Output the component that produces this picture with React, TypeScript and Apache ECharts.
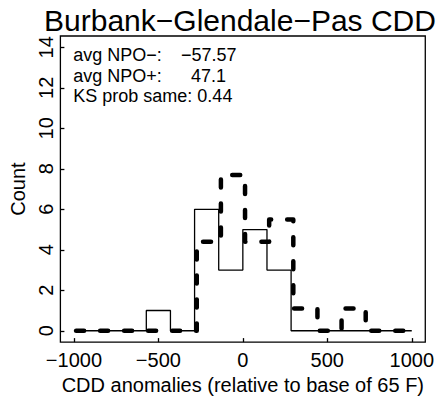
import React, { useEffect, useRef } from 'react';
import * as echarts from 'echarts';

const chartTitle = 'Burbank−Glendale−Pas CDD';
const xAxisTitle = 'CDD anomalies (relative to base of 65 F)';
const yAxisTitle = 'Count';

// histogram bin edges (14 bins of width 1000/7)
const binEdges = [
  -1000, -857.14, -714.29, -571.43, -428.57, -285.71, -142.86, 0,
  142.86, 285.71, 428.57, 571.43, 714.29, 857.14, 1000,
];
// solid histogram (NPO−)
const npoMinusCounts = [0, 0, 0, 1, 0, 6, 3, 5, 3, 0, 0, 0, 0, 0];
// dashed histogram (NPO+, scaled)
const npoPlusCounts = [0, 0, 0, 0, 0, 4.4, 7.7, 4.4, 5.5, 1.1, 0, 1.1, 0, 0];
// small horizontal offset of the dashed histogram in the original
const npoPlusShift = 13;

const xTicks = [-1000, -500, 0, 500, 1000];
const yTicks = [0, 2, 4, 6, 8, 10, 12, 14];
const xRange = [-1080, 1080];
const yRange = [-0.56, 14.56];

const statLabels = ['avg NPO−:', 'avg NPO+:', 'KS prob same: 0.44'];
const statValues = ['−57.57', '47.1', ''];

const FONT = '"Liberation Sans", Arial, Helvetica, sans-serif';

function stepPoints(edges: number[], counts: number[], shift: number) {
  const pts: number[][] = [[edges[0] + shift, 0]];
  for (let i = 0; i < counts.length; i++) {
    pts.push([edges[i] + shift, counts[i]]);
    pts.push([edges[i + 1] + shift, counts[i]]);
  }
  pts.push([edges[edges.length - 1] + shift, 0]);
  return pts;
}

const fmtMinus = (v: number) => String(v).replace('-', '−');

export default function App() {
  const ref = useRef<HTMLDivElement>(null);
  useEffect(() => {
    if (!ref.current) return;
    const chart = echarts.init(ref.current, null, { renderer: 'svg' });
    const statX = [73.3, 73.3, 73.3];
    const valX = [181, 191, 0];
    const statY = [55, 76, 96];
    const graphics: any[] = [
      {
        type: 'text',
        style: {
          text: chartTitle,
          x: 240,
          y: 20.5,
          textAlign: 'center',
          textVerticalAlign: 'middle',
          font: `30px ${FONT}`,
          fill: '#000',
        },
      },
    ];
    statLabels.forEach((s, i) => {
      graphics.push({
        type: 'text',
        style: {
          text: s,
          x: statX[i],
          y: statY[i],
          textAlign: 'left',
          textVerticalAlign: 'middle',
          font: `18px ${FONT}`,
          fill: '#000',
        },
      });
      if (statValues[i]) {
        graphics.push({
          type: 'text',
          style: {
            text: statValues[i],
            x: valX[i],
            y: statY[i],
            textAlign: 'left',
            textVerticalAlign: 'middle',
            font: `18px ${FONT}`,
            fill: '#000',
          },
        });
      }
    });

    chart.setOption({
      animation: false,
      grid: {
        left: 60,
        top: 36,
        width: 366.7,
        height: 309.5,
        show: true,
        borderColor: '#000',
        borderWidth: 1.3,
        backgroundColor: 'transparent',
      },
      xAxis: {
        type: 'value',
        min: xRange[0],
        max: xRange[1],
        name: xAxisTitle,
        nameLocation: 'middle',
        nameGap: 29,
        nameTextStyle: { fontFamily: FONT, fontSize: 20, color: '#000' },
        axisLine: { show: false, onZero: false },
        splitLine: { show: false },
        axisTick: {
          show: true,
          inside: true,
          length: 4,
          customValues: xTicks,
          lineStyle: { color: '#000', width: 1.3 },
        },
        axisLabel: {
          customValues: xTicks,
          margin: 8,
          fontFamily: FONT,
          fontSize: 20,
          color: '#000',
          formatter: (v: number) => fmtMinus(v),
        },
      },
      yAxis: {
        type: 'value',
        min: yRange[0],
        max: yRange[1],
        name: yAxisTitle,
        nameLocation: 'middle',
        nameGap: 29.5,
        nameRotate: 90,
        nameTextStyle: { fontFamily: FONT, fontSize: 20, color: '#000' },
        axisLine: { show: false, onZero: false },
        splitLine: { show: false },
        axisTick: {
          show: true,
          inside: true,
          length: 4,
          customValues: yTicks,
          lineStyle: { color: '#000', width: 1.3 },
        },
        axisLabel: {
          customValues: yTicks,
          rotate: 90,
          margin: 4.5,
          fontFamily: FONT,
          fontSize: 20,
          color: '#000',
        },
      },
      graphic: graphics,
      series: [
        {
          name: 'NPO−',
          type: 'line',
          data: stepPoints(binEdges, npoMinusCounts, 0),
          showSymbol: false,
          symbol: 'none',
          silent: true,
          lineStyle: { color: '#000', width: 1.3 },
        },
        {
          name: 'NPO+',
          type: 'line',
          data: stepPoints(binEdges, npoPlusCounts, npoPlusShift),
          showSymbol: false,
          symbol: 'none',
          silent: true,
          lineStyle: {
            color: '#000',
            width: 4.5,
            type: [8, 16],
            cap: 'round',
            join: 'round',
          },
        },
      ],
    });
    return () => chart.dispose();
  }, []);
  return (
    <div
      ref={ref}
      style={{ position: 'fixed', left: 0, top: 0, width: 437, height: 400, background: '#fff' }}
    />
  );
}
